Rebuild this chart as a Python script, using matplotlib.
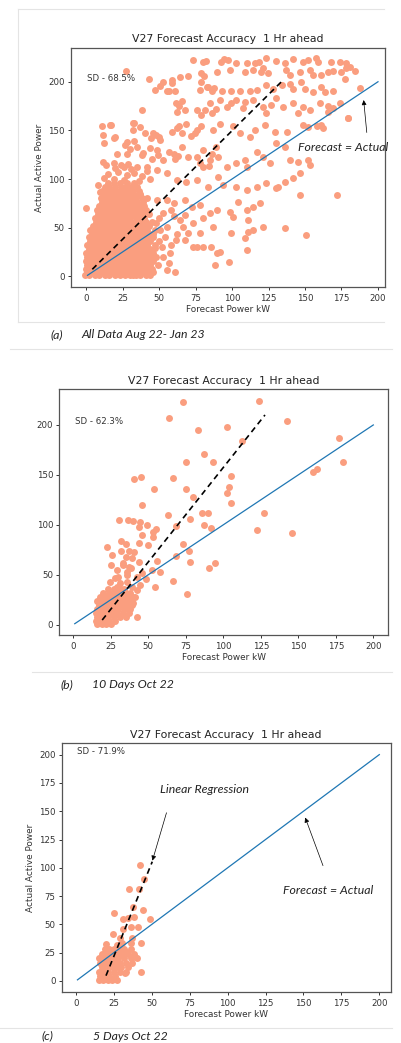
import matplotlib
matplotlib.use("Agg")
import matplotlib.pyplot as plt
import numpy as np
from matplotlib.lines import Line2D

plt.rcParams['font.family'] = ['DejaVu Sans']

### data (x = forecast kW, y = actual kW)

# panel (a) - dense blob near the origin, one row per actual-power level
a_rows = [
    (1, [-1, 2, 6, 9, 13, 16, 20, 23, 27, 30, 34, 37, 41, 44]),
    (4, [1, 4, 8, 11, 15, 18, 22, 25, 29, 32, 36, 39, 43, 46]),
    (8, [0, 3, 7, 10, 14, 17, 21, 24, 28, 31, 35, 38, 42, 45]),
    (12, [1, 5, 8, 12, 15, 19, 22, 26, 29, 33, 36, 40, 44]),
    (16, [0, 3, 7, 10, 14, 17, 21, 24, 28, 31, 35, 38, 42, 46]),
    (20, [1, 5, 8, 12, 15, 19, 22, 26, 29, 33, 36, 40, 44, 48]),
    (24, [0, 3, 7, 10, 14, 17, 21, 24, 28, 31, 35, 38, 42, 46]),
    (28, [2, 5, 8, 12, 15, 19, 22, 26, 29, 33, 36, 40, 44]),
    (32, [1, 4, 7, 10, 14, 17, 21, 24, 28, 31, 35, 38, 42, 47]),
    (36, [3, 6, 9, 12, 15, 19, 22, 26, 29, 33, 36, 40, 44]),
    (40, [2, 5, 8, 11, 14, 17, 21, 24, 28, 31, 35, 38, 42, 46]),
    (44, [4, 7, 10, 13, 16, 19, 22, 26, 29, 33, 36, 40, 44]),
    (48, [3, 6, 9, 12, 15, 18, 21, 24, 28, 31, 35, 38, 42, 47]),
    (52, [5, 8, 11, 14, 17, 20, 23, 26, 29, 33, 36, 40, 43]),
    (56, [7, 10, 13, 16, 19, 22, 25, 28, 31, 35, 38, 41, 45]),
    (60, [6, 9, 12, 15, 18, 21, 24, 27, 30, 34, 37, 40]),
    (64, [8, 11, 14, 17, 20, 23, 26, 29, 32, 35, 39, 43]),
    (68, [10, 13, 16, 19, 22, 25, 28, 31, 34, 37, 41]),
    (72, [9, 12, 15, 18, 21, 24, 27, 30, 33, 36, 40]),
    (76, [11, 14, 17, 20, 23, 26, 29, 32, 35, 39]),
    (80, [10, 13, 16, 19, 22, 25, 28, 31, 34, 38]),
    (84, [12, 15, 18, 21, 24, 27, 30, 33, 37]),
    (88, [11, 14, 17, 20, 23, 26, 29, 32, 36]),
    (92, [13, 16, 20, 24, 27, 31, 35]),
    (96, [15, 19, 23, 28, 33]),
]

# panel (a) - scattered points
a_pts = [
    (73, 222), (92.7, 220), (94.4, 223), (97.4, 222), (103, 219), (110, 219.5), (115.6, 219),
    (118.6, 220), (123.6, 224), (130.4, 221), (136, 219), (141.8, 223), (148.7, 220), (152, 222),
    (157.8, 224), (159, 220.5), (168, 220.5), (173.8, 220), (178.3, 219), (180.6, 215), (184, 211),
    (78.7, 209), (89.4, 210), (98.5, 212), (108.8, 210), (114.4, 212), (121.3, 213.7), (120, 210),
    (124.7, 208.6), (137, 212), (139.5, 207), (146.4, 210), (153.2, 212), (155.5, 207), (161.2, 207),
    (165.8, 210), (169.2, 211), (175, 210), (178.3, 213.7), (80, 220), (82.5, 221),
    (47.2, 192), (55.2, 191), (59, 202), (64.3, 205), (70, 206), (77.9, 192), (83.6, 195),
    (92.9, 191), (99.6, 191), (105.3, 191), (112.2, 191), (116.8, 192), (123.6, 196.6), (128.2, 193),
    (134, 196.6), (139.5, 198), (141.8, 193), (147.5, 200), (149.8, 193), (155.5, 189.7),
    (161.2, 195), (163.5, 189.7), (169.2, 191), (177.2, 203), (27.4, 211), (43, 202.7), (59, 199),
    (51, 196), (53, 200), (57, 190.7), (61, 190), (79, 200), (81, 206), (83, 195), (86, 190),
    (88, 194), (187.7, 193.5),
    (38, 171), (61.3, 178), (67.7, 171), (62, 169), (75.7, 171), (81.4, 171), (84.8, 178),
    (91.7, 181), (96.3, 174), (99.6, 178), (103, 181), (107.6, 172.6), (108.8, 179.5), (114.4, 181),
    (121.3, 174), (123.6, 167.5), (127, 176), (130.4, 183), (135, 174), (141.8, 178), (145.2, 167.5),
    (148.7, 174), (153.2, 171), (160, 178), (165.8, 169), (169.2, 172.6), (179.5, 163), (161.2, 155.5),
    (148.7, 155.5), (173.8, 178), (179.7, 162.7), (166, 175), (64, 175), (65.5, 180), (79, 166),
    (86, 168), (89, 172),
    (11.2, 154.5), (16.4, 155.5), (20, 143.5), (11.9, 145.2), (32.4, 158), (27.8, 138), (40.3, 147),
    (46, 147), (50.6, 140), (58.6, 148.6), (65.4, 147), (68.8, 157), (74.6, 147), (79, 154),
    (87.1, 150), (91.7, 157), (100.8, 154), (105.3, 147), (112.2, 143.5), (115.6, 150), (122.4, 155.5),
    (129.3, 148.6), (137.7, 148.6), (17.1, 155.8), (19.4, 142.1), (33, 157.5), (32, 150), (37, 153),
    (44.6, 142), (48, 145), (50, 143), (62, 152), (64, 155), (72, 144), (76, 150), (152, 153),
    (158, 155), (162, 152),
    (12.3, 136.6), (11.9, 118), (21, 126), (27.8, 126), (34.7, 133), (38, 124.7), (43.8, 131.5),
    (48.3, 130), (53, 119.5), (60, 126), (65.4, 133), (70, 123), (75.7, 123), (80.2, 112.7),
    (84.8, 119.5), (90.5, 123), (96.3, 112.7), (103, 116), (108.8, 119.5), (110, 112.7), (116.8, 128),
    (121.3, 123), (125.9, 116), (130.4, 136.6), (136, 133), (139.5, 119.5), (145.2, 118), (152, 119.5),
    (153.2, 114), (141.8, 100.7), (146.4, 105.8), (27, 135), (30, 131), (33, 139), (39, 127),
    (45, 121), (49, 125), (57, 128), (61, 121), (63, 124), (80, 130), (86, 126), (89, 133),
    (78, 116), (84, 113), (19, 116), (24, 114), (29, 115),
    (13.7, 114), (19.8, 111), (26.2, 112), (34.7, 112.7), (41.5, 112.7), (48.3, 109), (55.2, 106),
    (62, 99), (68.8, 97), (75.7, 99), (83.6, 92), (90.5, 102), (93.8, 94), (103, 92), (110, 88.7),
    (116.8, 92), (123.6, 95.5), (130.4, 90.4), (136, 97), (131.5, 92), (146.4, 83.6), (172, 83.6),
    (15, 105), (22, 107), (28, 104), (33, 106), (38, 103), (42, 108), (19, 100), (26, 99),
    (36, 98), (12, 101), (31, 110), (44, 100),
    (8.4, 94), (9.6, 87), (16.4, 78.4), (0, 70), (7.3, 68), (24.4, 82), (37, 85), (41.5, 80),
    (48.3, 78.4), (55.2, 78.4), (60, 75), (67.7, 78.4), (72.3, 71.6), (77.9, 73.3), (84.8, 64.7),
    (89.4, 68), (98.5, 66.4), (100.8, 61.3), (104.1, 76.7), (110, 68), (111, 58), (114.4, 71.6),
    (119, 75), (121.3, 51), (114.4, 47.6), (111, 46), (108.8, 39), (110, 27), (136, 49.3),
    (151, 42.5), (99.6, 44.5), (87.1, 51), (80.2, 59.6), (73.4, 54.5), (66.6, 51), (77.9, 44.5),
    (80.2, 30.5), (85.9, 30.5), (89.4, 23.6), (91.7, 25.3), (88.2, 11.6), (98, 15), (75.7, 30.5),
    (73.4, 29.8), (67.7, 37), (61.6, 37), (58, 32), (52.9, 20), (55.2, 6.5), (61, 4.8), (57.5, 23.6),
    (47.2, 28.8), (46, 44), (50.6, 47.6), (55.2, 51), (64.3, 58), (43.8, 3), (39.2, 10), (32.4, 1.4),
    (50, 60), (53, 65), (58, 68), (50, 36), (54, 40), (62, 44), (48, 55), (52, 30), (60, 62),
    (68, 63), (70, 45), (57, 14), (49, 12),
]

# panel (b)
b_pts = [
    (72.9, 222.7), (124, 224.4), (64, 206.7), (83.3, 195), (102.2, 198.3), (142.2, 204),
    (112.2, 184.3), (177.3, 186.6), (87.1, 170.6), (75.1, 163), (93.3, 163), (179.6, 163.3),
    (160, 153), (162.7, 156), (40.7, 146), (45.1, 147.6), (66.2, 146.6), (104.9, 149), (104, 138),
    (54, 136), (75.1, 136), (79.6, 128), (102.2, 131.6), (105, 121.5), (45.6, 120), (63.3, 110),
    (85.6, 112), (90, 112), (127.3, 112), (77.8, 105.5), (86.9, 99.5), (91.8, 97), (122.4, 94.8),
    (145.6, 91.5), (68.4, 98.8), (30.7, 104.8), (36.2, 104.5), (40, 103.8), (44.2, 103),
    (48.9, 99.5), (43.8, 98), (55.1, 95.5), (52.9, 92.8), (45.6, 89.5), (53.3, 88), (31.6, 83.8),
    (35.1, 80.8), (43.8, 82), (50, 79.8), (72.9, 80.5), (22.2, 77.5), (31.8, 73.8), (37.3, 74),
    (40.4, 72.8), (26, 69.8), (76.9, 73.5), (35.1, 67.4), (38.9, 66.4), (44, 63), (55.6, 64),
    (33.3, 59.8), (25.1, 59.8), (38.4, 56.4), (28.9, 54.8), (35.6, 53), (52.2, 54.8), (57.8, 53),
    (68.4, 68.8), (77.8, 63), (90.2, 56.8), (94.4, 61.4), (45.6, 51.4), (42.2, 48), (48.4, 45.4),
    (27.8, 46.4), (24.4, 42.4), (31.1, 41.4), (35.6, 43), (44.4, 39.7), (66.2, 43.7), (54.4, 37.7),
    (42.2, 34.7), (75.6, 30.7), (40, 21.4), (35.1, 17), (42.4, 7.3), (33, 62), (36, 50), (30, 48),
    (39, 38), (41, 28), (37, 58), (32, 36), (29, 38),
]
b_rows = [
    (1, [16, 19, 22, 25]),
    (4, [15, 18, 21, 24, 28]),
    (8, [16, 19, 23, 27, 31, 35]),
    (12, [15, 18, 22, 25, 29, 33, 37]),
    (16, [16, 20, 23, 27, 30, 34, 38]),
    (20, [17, 21, 24, 28, 31, 35, 39]),
    (24, [16, 19, 23, 26, 30, 33, 37]),
    (28, [18, 22, 25, 29, 32, 36, 40]),
    (32, [20, 24, 27, 31, 35, 38]),
    (36, [23, 27, 30, 34]),
]

# panel (c)
c_pts = [
    (42.2, 102.5), (45.1, 89.8), (34.7, 81), (41.8, 81.3), (37.8, 65.7), (44.4, 62.7), (25.1, 59.8),
    (48.8, 54.5), (30.8, 54.5), (34.5, 55.4), (38.5, 56.8), (36, 47.4), (41.1, 48), (24.2, 41.5),
    (31.2, 45.7), (36.7, 37.7), (19.8, 32.7), (26.8, 31.8), (30.5, 33.3), (36, 33.3), (42.9, 33.9),
    (38.9, 20.9), (42.6, 8), (32.3, 6.8), (33, 25.9), (29, 38),
]
c_rows = [
    (0.5, [15, 18, 21, 24, 27]),
    (4, [16, 19, 22, 26]),
    (8, [15, 18, 21, 25, 29, 33]),
    (12, [17, 20, 24, 27, 30, 34]),
    (16, [16, 19, 22, 26, 29, 33, 37]),
    (20, [15, 18, 21, 25, 28, 32, 36, 40]),
    (24, [17, 20, 23, 27, 30, 34, 38]),
    (28, [19, 22, 25, 29, 32, 36]),
]

a_reg = ([4.3, 135], [7.2, 201.7])
b_reg = ([19.3, 127.8], [4.7, 210])
c_reg = ([19.8, 50.3], [4.7, 105.4])
ideal = ([1, 200], [1, 200])

sd_labels = ["SD - 68.5%", "SD - 62.3%", "SD - 71.9%"]
captions = [("(a)", "All Data Aug 22- Jan 23"), ("(b)", "10 Days Oct 22"), ("(c)", "5 Days Oct 22")]

W, H = 401, 1043
PT = '#FA9E7F'
ANN_FONT = ['Lato', 'DejaVu Sans']
ANN = dict(fontsize=8.8, style='italic', family=ANN_FONT, color='#222222')
ARROW = dict(arrowstyle='-|>', lw=0.5, color='black', mutation_scale=7)


def fx(px):
    return px / W


def fy(py):
    return 1 - py / H


def unpack(rows, pts):
    xs, ys = [], []
    for y, row in rows:
        for x in row:
            xs.append(x)
            ys.append(y)
    for x, y in pts:
        xs.append(x)
        ys.append(y)
    return np.array(xs), np.array(ys)


def panel(rect, xs, ys, reg, sd, xlim, ylim, yticks, ylabel):
    ax = fig.add_axes(rect)
    ax.scatter(xs, ys, s=25, color=PT, linewidths=0, zorder=2)
    ax.plot(ideal[0], ideal[1], color='#1f77b4', lw=0.9, zorder=3)
    ax.plot(reg[0], reg[1], color='black', lw=1.2, dashes=(3.5, 2.5), zorder=4)
    ax.set_xlim(*xlim)
    ax.set_ylim(*ylim)
    ax.set_xticks(range(0, 201, 25))
    ax.set_yticks(yticks)
    ax.tick_params(labelsize=6.2, colors='#333333', length=2.5, width=0.7, pad=2)
    for s in ax.spines.values():
        s.set_color('#555555')
        s.set_linewidth(0.9)
    ax.set_title("V27 Forecast Accuracy  1 Hr ahead", fontsize=7.8, color='#222222', pad=4)
    ax.set_xlabel("Forecast Power kW", fontsize=6.4, color='#333333', labelpad=2)
    if ylabel:
        ax.set_ylabel("Actual Active Power", fontsize=6.4, color='#333333', labelpad=3)
    ax.text(1, 203, sd, fontsize=6.2, color='#333333', va='center', ha='left')
    return ax


fig = plt.figure(figsize=(W / 100, H / 100), dpi=100)

xa, ya = unpack(a_rows, a_pts)
ax1 = panel([fx(70.7), fy(287.3), fx(385) - fx(70.7), (287.3 - 47.7) / H],
            xa, ya, a_reg, sd_labels[0], (-10.5, 204.8), (-11.3, 235), range(0, 201, 50), True)
ax1.text(145.2, 131.9, "Forecast = Actual", va='center', ha='left', clip_on=False, **ANN)
ax1.annotate("", xy=(190, 184), xytext=(192.5, 145), arrowprops=ARROW)

xb, yb = unpack(b_rows, b_pts)
panel([fx(59.3), fy(635.3), fx(388.3) - fx(59.3), (635.3 - 389.3) / H],
      xb, yb, b_reg, sd_labels[1], (-9.3, 210), (-10.6, 235.7), range(0, 201, 50), False)

xc, yc = unpack(c_rows, c_pts)
ax3 = panel([fx(61.7), fy(992.3), fx(390.7) - fx(61.7), (992.3 - 743.3) / H],
            xc, yc, c_reg, sd_labels[2], (-9.4, 207.5), (-10, 210), range(0, 201, 25), True)
ax3.text(55.4, 168.8, "Linear Regression", va='center', ha='left', **ANN)
ax3.annotate("", xy=(49.9, 104), xytext=(60.2, 151), arrowprops=ARROW)
ax3.text(136.5, 79.8, "Forecast = Actual", va='center', ha='left', **ANN)
ax3.annotate("", xy=(150.5, 146.7), xytext=(163.5, 99.6), arrowprops=ARROW)

# captions under each chart
cap_pos = [(50, 81.7, 335), (60, 91.7, 685), (41.7, 93.3, 1036)]
for (lab, txt), (x0, x1, yy) in zip(captions, cap_pos):
    fig.text(fx(x0), fy(yy), lab, va='center', **ANN)
    fig.text(fx(x1), fy(yy), txt, va='center', **ANN)

# faint borders of the pasted screenshots
faint = [((18, 384), (9, 9)), ((18, 18), (9, 322)), ((18, 384), (322, 322)),
         ((10, 392), (349, 349)), ((32, 392), (671.7, 671.7)), ((0, 392), (1028, 1028))]
for (x0, x1), (y0, y1) in faint:
    fig.add_artist(Line2D([fx(x0), fx(x1)], [fy(y0), fy(y1)], color='#e4e4e4', lw=0.8))

fig.savefig("out.png", dpi=100, facecolor='white')
